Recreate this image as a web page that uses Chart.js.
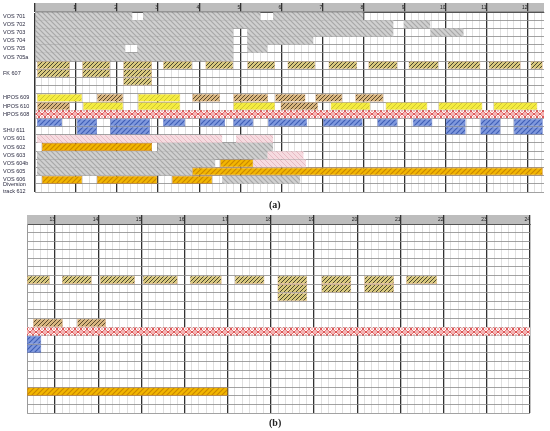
<!DOCTYPE html>
<html>
<head>
<meta charset="utf-8">
<script src="https://cdn.jsdelivr.net/npm/chart.js@4.4.0/dist/chart.umd.min.js"></script>
<style>
  body { margin: 0; background: #fff; width: 550px; height: 431px; position: relative; overflow: hidden; }
  .wrap { position: absolute; left: 0; width: 550px; }
  #wa { top: 0; height: 200px; }
  #wb { top: 212px; height: 204px; }
  .cap { position: absolute; font-family: "Liberation Serif", serif; font-weight: bold; font-size: 10px; color: #222; }
</style>
</head>
<body>
<div class="wrap" id="wa"><canvas id="chartA"></canvas></div>
<div class="cap" style="left:269px;top:199px">(a)</div>
<div class="wrap" id="wb"><canvas id="chartB"></canvas></div>
<div class="cap" style="left:269px;top:417px">(b)</div>
<script>
/* ===============================
   DATA  (row index, start hour, end hour)
================================ */
const rowLabels = ['VOS 701', 'VOS 702', 'VOS 703', 'VOS 704', 'VOS 705', 'VOS 705a', '', 'FK 607', '', '',
  'HPOS 609', 'HPOS 610', 'HPOS 608', '', 'SHU 611', 'VOS 601', 'VOS 602', 'VOS 603', 'VOS 604b',
  'VOS 605', 'VOS 606', ['Diversion', 'track 612']];

// panel (a): hours 0 - 12.4
const greyA = [
  [0, 0, 2.37], [0, 2.63, 5.49], [0, 5.8, 8.0],
  [1, 0, 8.73], [1, 8.98, 9.63],
  [2, 0, 4.83], [2, 5.17, 8.73], [2, 9.63, 10.44],
  [3, 0, 4.83], [3, 5.17, 6.78],
  [4, 0, 2.2], [4, 2.49, 4.83], [4, 5.17, 5.66],
  [5, 0, 4.83],
  [16, 2.98, 5.8], [17, 0.05, 5.66], [18, 0.05, 4.39], [19, 0.05, 3.83], [20, 4.56, 6.46]
];
const pinkA = [[15, 0.05, 4.56], [15, 4.9, 5.8], [17, 5.66, 6.54], [18, 5.32, 6.6]];
const fkA = [
  [6, 0.05, 0.85], [6, 1.15, 1.83], [6, 2.15, 2.85], [6, 3.12, 3.83], [6, 4.15, 4.83], [6, 5.17, 5.85],
  [6, 6.15, 6.83], [6, 7.15, 7.85], [6, 8.12, 8.83], [6, 9.1, 9.83], [6, 10.05, 10.85], [6, 11.05, 11.83],
  [6, 12.07, 12.37],
  [7, 0.05, 0.85], [7, 1.15, 1.83], [7, 2.15, 2.85],
  [8, 2.15, 2.85]
];
const hposTanA = [[10, 1.51, 2.15], [10, 3.83, 4.51], [10, 4.83, 5.68], [10, 5.85, 6.59], [10, 6.83, 7.49],
  [10, 7.8, 8.49], [11, 0.05, 0.85], [11, 5.98, 6.9]];
const hposYellowA = [[10, 0.05, 1.15], [10, 2.51, 3.54], [11, 1.17, 2.15], [11, 2.51, 3.54],
  [11, 4.83, 5.85], [11, 7.2, 8.17], [11, 8.54, 9.56], [11, 9.83, 10.9], [11, 11.17, 12.24]];
const hpos608A = [[12, 0, 12.4]];
const shuA = [
  [13, 0.05, 0.66], [13, 1.02, 1.51], [13, 1.83, 2.8], [13, 3.12, 3.66], [13, 4.02, 4.63], [13, 4.83, 5.32],
  [13, 5.68, 6.63], [13, 7.02, 7.98], [13, 8.34, 8.83], [13, 9.2, 9.68], [13, 10.0, 10.49], [13, 10.85, 11.34],
  [13, 11.66, 12.37],
  [14, 1.02, 1.51], [14, 1.83, 2.8], [14, 10.0, 10.49], [14, 10.85, 11.34], [14, 11.66, 12.37]
];
const orangeA = [[16, 0.17, 2.85], [18, 4.51, 5.32], [19, 3.83, 12.37],
  [20, 0.17, 1.15], [20, 1.51, 2.98], [20, 3.34, 4.32]];

// panel (b): hours 12.35 - 24
const fkB = [
  [6, 12.35, 12.88], [6, 13.16, 13.85], [6, 14.04, 14.85], [6, 15.03, 15.84], [6, 16.12, 16.86],
  [6, 17.16, 17.85], [6, 18.15, 18.84], [6, 19.17, 19.86], [6, 20.16, 20.85], [6, 21.13, 21.85],
  [7, 18.15, 18.84], [7, 19.17, 19.86], [7, 20.16, 20.85],
  [8, 18.15, 18.84]
];
const hposTanB = [[11, 12.49, 13.18], [11, 13.51, 14.18]];
const hpos608B = [[12, 12.35, 24]];
const shuB = [[13, 12.35, 12.68], [14, 12.35, 12.68]];
const orangeB = [[19, 12.35, 17.0]];

/* ===============================
   PATTERNS
================================ */
function hatch(bg, fg, dir, size, width) {
  const c = document.createElement('canvas');
  c.width = c.height = size;
  const g = c.getContext('2d');
  g.fillStyle = bg;
  g.fillRect(0, 0, size, size);
  g.strokeStyle = fg;
  g.lineWidth = width;
  g.beginPath();
  if (dir > 0) {
    g.moveTo(0, size); g.lineTo(size, 0);
    g.moveTo(-1, 1); g.lineTo(1, -1);
    g.moveTo(size - 1, size + 1); g.lineTo(size + 1, size - 1);
  } else {
    g.moveTo(0, 0); g.lineTo(size, size);
    g.moveTo(size - 1, -1); g.lineTo(size + 1, 1);
    g.moveTo(-1, size - 1); g.lineTo(1, size + 1);
  }
  g.stroke();
  return g.createPattern(c, 'repeat');
}

function chain() {
  const w = 6, h = 6;
  const c = document.createElement('canvas');
  c.width = w; c.height = h;
  const g = c.getContext('2d');
  g.fillStyle = '#f3b4b4';
  g.fillRect(0, 0, w, h);
  g.strokeStyle = '#dd4d4d';
  g.lineWidth = 0.9;
  g.beginPath();
  g.moveTo(0, 0); g.lineTo(w, h);
  g.moveTo(0, h); g.lineTo(w, 0);
  g.stroke();
  g.strokeStyle = '#ffffff';
  g.lineWidth = 1;
  [0, w].forEach(x => {
    g.beginPath();
    g.arc(x, h / 2, 1.6, 0, Math.PI * 2);
    g.stroke();
  });
  return g.createPattern(c, 'repeat');
}

const pat = {
  grey: hatch('#d0d0d0', '#a8a8a8', -1, 5, 1.2),
  pink: hatch('#f6dbe0', '#e7b9c2', -1, 5, 1),
  fk: hatch('#d9c97e', '#4c4830', 1, 4, 1),
  tan: hatch('#d9b67f', '#5c4a30', 1, 4, 1),
  yellow: hatch('#f4ec3e', '#cfc438', 1, 5, 1),
  blue: hatch('#7f98dd', '#3e5eb6', 1, 5, 1.1),
  orange: hatch('#f2b600', '#c98600', 1, 5, 1.1),
  red: chain()
};

/* ===============================
   CHART BUILDER
================================ */
function toPoints(segs) {
  return segs.map(([row, s, e]) => ({ y: String(row), x: [s, e] }));
}

function barSet(segs, bg, border) {
  return {
    data: toPoints(segs),
    backgroundColor: bg,
    borderColor: border || 'transparent',
    borderWidth: border ? 0.6 : 0,
    borderSkipped: false,
    grouped: false,
    barPercentage: 0.96,
    categoryPercentage: 1
  };
}

const isHour = v => Math.abs(v - Math.round(v)) < 1e-6;

function makeChart(id, sets, xMin, xMax, showRows, padding, yWidth) {
  return new Chart(document.getElementById(id), {
    type: 'bar',
    data: {
      labels: rowLabels.map((_, i) => String(i)),
      datasets: sets
    },
    options: {
      indexAxis: 'y',
      responsive: true,
      maintainAspectRatio: false,
      animation: false,
      layout: { padding: padding },
      plugins: { legend: { display: false }, tooltip: { enabled: false } },
      scales: {
        x: {
          type: 'linear',
          position: 'top',
          min: xMin,
          max: xMax,
          backgroundColor: '#bdbdbd',
          afterBuildTicks: s => {
            const t = [];
            for (let k = Math.ceil(xMin * 6 - 1e-6); k <= Math.floor(xMax * 6 + 1e-6); k++) t.push({ value: k / 6 });
            s.ticks = t;
          },
          afterFit: s => { s.height = 9; },
          grid: {
            color: c => isHour(c.tick.value) ? '#333333' : '#d3d3d3',
            lineWidth: c => isHour(c.tick.value) ? 1.3 : 0.7,
            tickColor: c => isHour(c.tick.value) ? '#333333' : 'rgba(0,0,0,0)',
            tickLength: 9
          },
          border: { color: '#555', width: 1 },
          ticks: {
            autoSkip: false,
            maxRotation: 0,
            minRotation: 0,
            align: 'end',
            padding: -7.5,
            color: '#222',
            font: { family: 'Liberation Sans', size: 5 },
            callback: v => (isHour(v) && v > 0.5 ? String(Math.round(v)) : '')
          }
        },
        y: {
          type: 'category',
          afterFit: s => { s.width = yWidth; },
          grid: { color: '#8a8a8a', lineWidth: 0.8, drawTicks: false },
          border: { color: '#9a9a9a', width: 1 },
          ticks: {
            display: showRows,
            crossAlign: 'far',
            padding: 0,
            autoSkip: false,
            color: '#2a2a40',
            font: { family: 'Liberation Sans', size: 5.5, lineHeight: 1.25 },
            callback: v => rowLabels[v]
          }
        }
      }
    }
  });
}

makeChart('chartA', [
  barSet(greyA, pat.grey),
  barSet(pinkA, pat.pink),
  barSet(hpos608A, pat.red),
  barSet(shuA, pat.blue, '#4a66c0'),
  barSet(fkA, pat.fk, '#e8b890'),
  barSet(hposTanA, pat.tan, '#e8b890'),
  barSet(hposYellowA, pat.yellow, '#e6c870'),
  barSet(orangeA, pat.orange, '#c87a10')
], 0, 12.4, true, { top: 3, left: 3, right: 6, bottom: 8 }, 32);

makeChart('chartB', [
  barSet(hpos608B, pat.red),
  barSet(shuB, pat.blue, '#4a66c0'),
  barSet(fkB, pat.fk, '#e8b890'),
  barSet(hposTanB, pat.tan, '#e8b890'),
  barSet(orangeB, pat.orange, '#c87a10')
], 12.35, 24, false, { top: 3, left: 0, right: 20, bottom: 3 }, 27);
</script>
</body>
</html>
